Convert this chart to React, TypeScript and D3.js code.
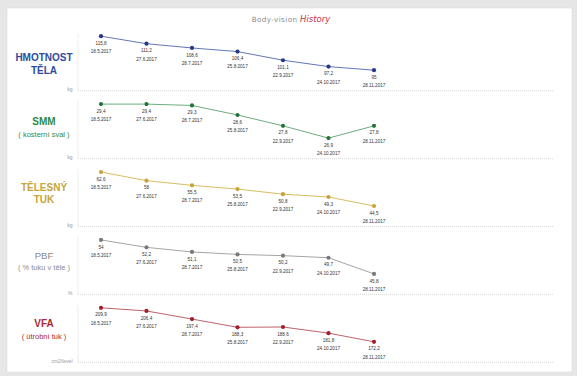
import React from "react";
import * as d3 from "d3";

const dates = ["18.5.2017", "27.6.2017", "28.7.2017", "25.8.2017", "22.9.2017", "24.10.2017", "28.11.2017"];
const weight = [115.8, 111.2, 108.6, 106.4, 101.1, 97.2, 95];
const smm = [29.4, 29.4, 29.3, 28.6, 27.8, 26.9, 27.8];
const bodyFat = [62.6, 58, 55.5, 53.5, 50.8, 49.3, 44.5];
const pbf = [54, 52.2, 51.1, 50.5, 50.2, 49.7, 45.8];
const vfa = [209.9, 206.4, 197.4, 188.3, 188.6, 181.8, 172.2];

const titles = [["HMOTNOST", "TĚLA"], ["SMM", "( kosterní sval )"], ["TĚLESNÝ", "TUK"], ["PBF", "( % tuku v těle )"], ["VFA", "( útrobní tuk )"]];
const units = ["kg", "kg", "kg", "%", "cm2/level"];
const seriesList = [weight, smm, bodyFat, pbf, vfa];

const styles = [
  { title: "#2f4b9c", line: "#5266ad", dot: "#27378a", bold: [true, true], size: [10, 10], ty: [-33.4, -20.7] },
  { title: "#2f8a45", line: "#5da36d", dot: "#23743a", bold: [true, false], size: [10, 7.5], ty: [-36.7, -24.7] },
  { title: "#c5a53c", line: "#d4b650", dot: "#c7a33a", bold: [true, true], size: [10, 10], ty: [-38.7, -26.7] },
  { title: "#8a8a8a", line: "#9a9a9a", dot: "#7a7a7a", bold: [false, false], size: [9.6, 7.5], ty: [-38.3, -27] },
  { title: "#a82a33", line: "#b5505a", dot: "#a31e2a", bold: [true, false], size: [10, 7.5], ty: [-39, -25.6] },
];

const fmt = (v: number) => (Number.isInteger(v) ? String(v) : String(v).replace(".", ","));

export default function App() {
  const W = 583, H = 381;
  const x = d3.scalePoint<string>().domain(dates).range([101, 374]);
  const font = "'Liberation Sans', Arial, sans-serif";
  return (
    <div style={{ position: "fixed", left: 0, top: 0 }}>
      <svg width={W} height={H} style={{ display: "block" }}>
        <rect x={0} y={0} width={W} height={H} fill="#fff" />
        <rect x={0} y={0} width={577} height={376} fill="#e6e6e6" />
        <rect x={7} y={8} width={565} height={364} fill="#fff" stroke="#dedede" strokeWidth={0.6} />
        <text x={291} y={22} textAnchor="middle" fontFamily="'DejaVu Sans', sans-serif" fontSize={7.2}>
          <tspan fill="#8a8a8a" letterSpacing={0.4}>Body-vision </tspan>
          <tspan fill="#c8334d" fontSize={8.5} fontStyle="italic">History</tspan>
        </text>
        {seriesList.map((vals, i) => {
          const base = 90.7 + 67.9 * i;
          const y = d3.scaleLinear().domain([d3.min(vals)!, d3.max(vals)!]).range([base - 20.5, base - 54.5]);
          const st = styles[i];
          const line = d3.line<number>().x((_, j) => x(dates[j])!).y((v) => y(v));
          return (
            <g key={i}>
              <line x1={78} x2={78} y1={base - 57} y2={base} stroke="#cfcfcf" strokeWidth={0.7} strokeDasharray="1,1" />
              <line x1={78} x2={553} y1={base} y2={base} stroke="#c8c8c8" strokeWidth={0.7} strokeDasharray="1,1" />
              <text x={72.5} y={base + 0.5} textAnchor="end" fontFamily={font} fontSize={5} fill="#999">{units[i]}</text>
              {titles[i].map((t, k) => (
                <text key={k} x={44} y={base + st.ty[k]} dy="0.35em" textAnchor="middle" fontFamily={font}
                  fontSize={st.size[k]} fontWeight={st.bold[k] ? "bold" : "normal"} fill={st.title}>{t}</text>
              ))}
              <path d={line(vals)!} fill="none" stroke={st.line} strokeWidth={0.9} />
              {vals.map((v, j) => (
                <g key={j}>
                  <circle cx={x(dates[j])!} cy={y(v)} r={2.1} fill={st.dot} />
                  <text x={x(dates[j])!} y={y(v) + 7} dy="0.35em" textAnchor="middle" fontFamily={font} fontSize={4.6} fill="#333">{fmt(v)}</text>
                  <text x={x(dates[j])!} y={y(v) + 15.3} dy="0.35em" textAnchor="middle" fontFamily={font} fontSize={4.6} fill="#333">{dates[j]}</text>
                </g>
              ))}
            </g>
          );
        })}
      </svg>
    </div>
  );
}
